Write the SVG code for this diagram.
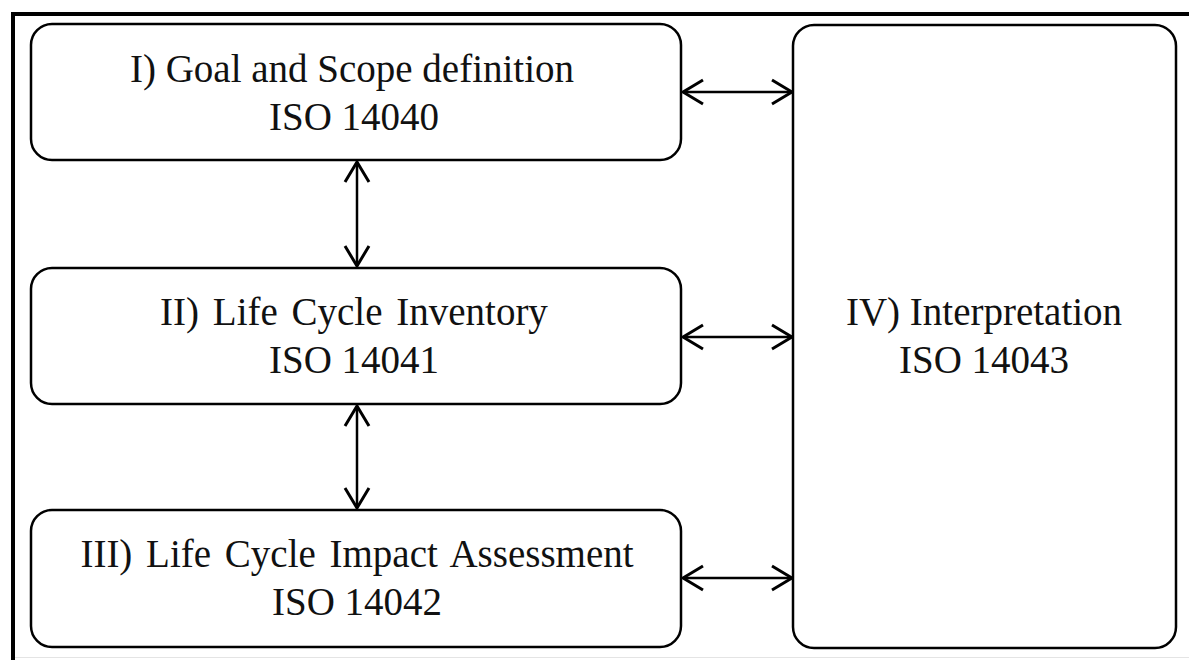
<svg xmlns="http://www.w3.org/2000/svg" width="1189" height="660" viewBox="0 0 1189 660">
  <defs>
    <style>
      .box { fill: #ffffff; stroke: #000000; stroke-width: 2.5; }
      .lbl { font-family: "Liberation Serif", "Times New Roman", serif; font-size: 39px; fill: #111111; text-anchor: middle; }
      .link { stroke: #000000; stroke-width: 2.5; fill: none; marker-start: url(#head); marker-end: url(#head); }
    </style>
    <marker id="head" viewBox="0 0 24 28" refX="22" refY="14" markerWidth="24" markerHeight="28" markerUnits="userSpaceOnUse" orient="auto-start-reverse">
      <path d="M2,2 L22,14 L2,26" fill="none" stroke="#000000" stroke-width="3"/>
    </marker>
  </defs>

  <rect width="1189" height="660" fill="#ffffff"/>

  <!-- outer frame -->
  <g id="frame">
    <line x1="11" y1="14" x2="1189" y2="14" stroke="#000000" stroke-width="4"/>
    <line x1="13" y1="12" x2="13" y2="660" stroke="#000000" stroke-width="4"/>
    <line x1="15" y1="657.5" x2="1189" y2="657.5" stroke="#e4e4e4" stroke-width="1"/>
  </g>

  <g id="goal-scope">
    <rect class="box" x="31" y="24" width="650" height="136" rx="21" ry="21"/>
    <text class="lbl" x="352" y="82">I) Goal and Scope definition</text>
    <text class="lbl" x="354" y="130">ISO 14040</text>
  </g>

  <g id="inventory">
    <rect class="box" x="31" y="268" width="650" height="136" rx="21" ry="21"/>
    <text class="lbl" x="354" y="325" word-spacing="4">II) Life Cycle Inventory</text>
    <text class="lbl" x="354" y="373">ISO 14041</text>
  </g>

  <g id="impact-assessment">
    <rect class="box" x="31" y="510" width="650" height="137" rx="21" ry="21"/>
    <text class="lbl" x="357" y="567" word-spacing="4">III) Life Cycle Impact Assessment</text>
    <text class="lbl" x="357" y="615">ISO 14042</text>
  </g>

  <g id="interpretation">
    <rect class="box" x="793" y="25" width="383" height="623" rx="21" ry="21"/>
    <text class="lbl" x="984" y="325">IV) Interpretation</text>
    <text class="lbl" x="984" y="373">ISO 14043</text>
  </g>

  <g id="connectors">
    <line class="link" x1="683" y1="92" x2="792" y2="92"/>
    <line class="link" x1="683" y1="337" x2="792" y2="337"/>
    <line class="link" x1="683" y1="578" x2="792" y2="578"/>
    <line class="link" x1="357" y1="162" x2="357" y2="266"/>
    <line class="link" x1="357" y1="406" x2="357" y2="508"/>
  </g>
</svg>
